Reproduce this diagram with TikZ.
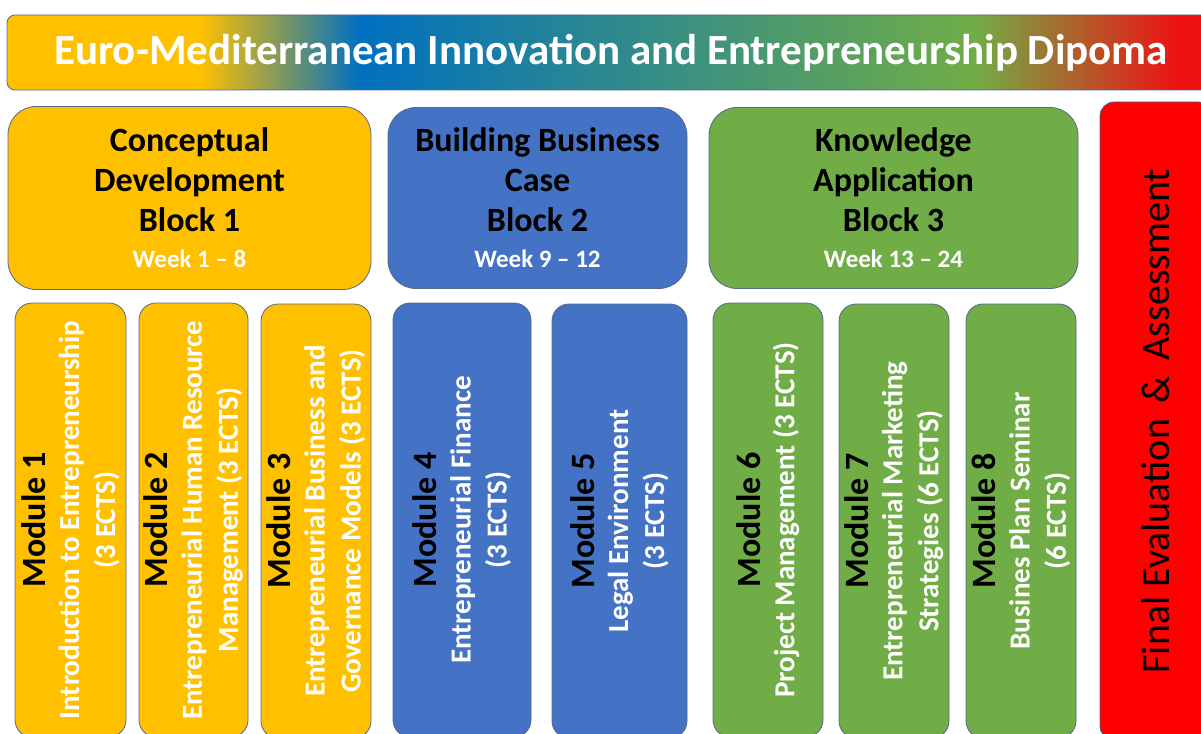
\documentclass[tikz,border=0pt]{standalone}
\usepackage{fontspec}
\setmainfont{Carlito}
\usetikzlibrary{positioning}

\definecolor{blkorange}{RGB}{255,192,0}
\definecolor{blkblue}{RGB}{68,114,196}
\definecolor{blkgreen}{RGB}{112,173,71}
\definecolor{blkred}{RGB}{255,0,0}
\definecolor{midblue}{RGB}{0,112,192}
\definecolor{barred}{RGB}{238,17,17}
\definecolor{edge}{RGB}{84,104,140}

\pgfdeclarehorizontalshading{titlebar}{100bp}{color(0bp)=(blkorange); color(33bp)=(blkorange); color(39.6bp)=(midblue); color(65bp)=(blkgreen); color(73.5bp)=(barred); color(100bp)=(barred)}

\newcommand{\modhead}[1]{{\color{black}\fontsize{34}{36}\selectfont #1}}
\newcommand{\weekline}[1]{{\color{white}\fontsize{25}{28}\selectfont #1}}

\begin{document}
\begin{tikzpicture}[x=1pt,y=-1pt,
  titlebox/.style={draw=edge,line width=0.8pt,shade,shading=titlebar,rounded corners=8pt,text=white,font=\fontsize{43}{48}\selectfont\bfseries},
  blockbox/.style={draw=edge,line width=0.8pt,rounded corners=28pt,align=center,font=\fontsize{34}{40}\selectfont\bfseries},
  modbox/.style={draw=edge,line width=0.8pt,rounded corners=17pt,rotate=90,align=center,text=white,minimum width=434pt,font=\fontsize{29}{36}\selectfont\bfseries},
  finalbox/.style={draw=edge,line width=0.8pt,fill=blkred,rounded corners=14pt,rotate=90,font=\fontsize{40}{44}\selectfont}]
\useasboundingbox (0,0) rectangle (1201,733);
\clip (0,0) rectangle (1201,733);

% title bar
\node[titlebox,minimum width=1208pt,minimum height=75pt] (title) at (611,52.5) {Euro-Mediterranean Innovation and Entrepreneurship Dipoma};

% blocks
\node[blockbox,fill=blkorange,minimum width=363pt,minimum height=183pt] (blk1) at (189.5,198) {Conceptual\\Development\\Block 1\\[-4pt]\weekline{Week 1 -- 8}};
\node[blockbox,fill=blkblue,minimum width=299pt,minimum height=181pt] (blk2) at (537.5,198) {Building Business\\Case\\Block 2\\[-4pt]\weekline{Week 9 -- 12}};
\node[blockbox,fill=blkgreen,minimum width=369pt,minimum height=181pt] (blk3) at (893.5,198) {Knowledge\\Application\\Block 3\\[-4pt]\weekline{Week 13 -- 24}};

% final assessment
\node[finalbox,minimum width=638pt,minimum height=112pt] (final) at (1156,421) {Final Evaluation \,\&\, Assessment};

% modules
\node[modbox,fill=blkorange,minimum height=111pt] (mod1) at (70.5,520) {\modhead{Module 1}\\[-2pt]Introduction to Entrepreneurship\\(3 ECTS)};
\node[modbox,fill=blkorange,minimum height=109pt] (mod2) at (193.5,520) {\modhead{Module 2}\\[-2pt]Entrepreneurial Human Resource\\Management (3 ECTS)};
\node[modbox,fill=blkorange,minimum height=110pt] (mod3) at (316,521) {\modhead{Module 3}\\[-2pt]Entrepreneurial Business and\\Governance Models (3 ECTS)};
\node[modbox,fill=blkblue,minimum height=138pt] (mod4) at (462,520) {\modhead{Module 4}\\[-2pt]Entrepreneurial Finance\\(3 ECTS)};
\node[modbox,fill=blkblue,minimum height=135pt] (mod5) at (619.5,521) {\modhead{Module 5}\\[-2pt]Legal Environment\\(3 ECTS)};
\node[modbox,fill=blkgreen,minimum height=110pt] (mod6) at (768,520) {\modhead{Module 6}\\[-2pt]Project Management (3 ECTS)};
\node[modbox,fill=blkgreen,minimum height=110pt] (mod7) at (894,521) {\modhead{Module 7}\\[-2pt]Entrepreneurial Marketing\\Strategies (6 ECTS)};
\node[modbox,fill=blkgreen,minimum height=110pt] (mod8) at (1021,521) {\modhead{Module 8}\\[-2pt]Busines Plan Seminar\\(6 ECTS)};

\end{tikzpicture}
\end{document}
